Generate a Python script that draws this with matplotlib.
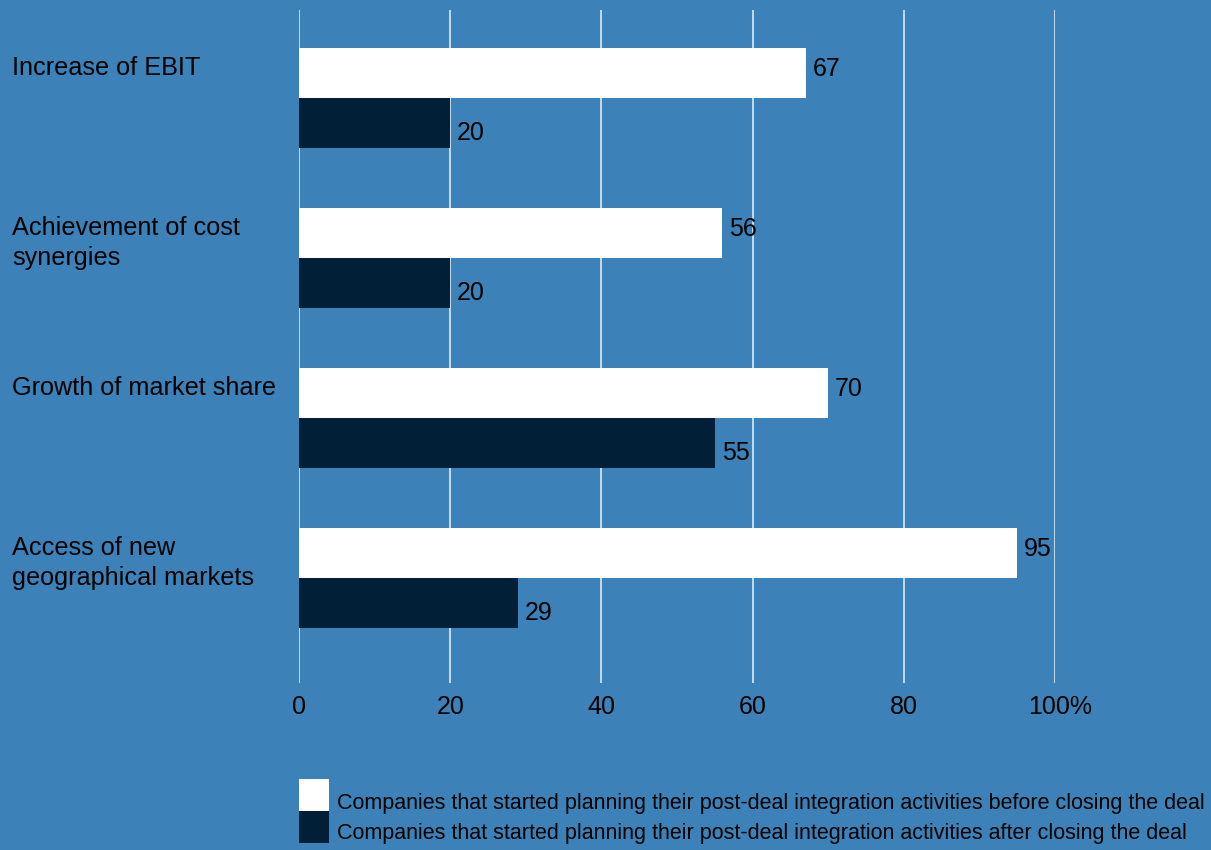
import numpy as np
import matplotlib.pyplot as plt
import matplotlib.transforms as mtransforms
from matplotlib.patches import Rectangle

plt.rcParams['font.family'] = ['Liberation Sans', 'DejaVu Sans']

# data
categories = ["Increase of EBIT", "Achievement of cost\nsynergies",
              "Growth of market share", "Access of new\ngeographical markets"]
before = [67, 56, 70, 95]
after = [20, 20, 55, 29]
series_names = ["Companies that started planning their post-deal integration activities before closing the deal",
                "Companies that started planning their post-deal integration activities after closing the deal"]
xticks = [0, 20, 40, 60, 80, 100]
xticklabels = ["0", "20", "40", "60", "80", "100%"]

bg = "#3c82b8"
dark = "#021f38"
W, H = 1211, 850

fig = plt.figure(figsize=(W / 100, H / 100), dpi=100, facecolor=bg)
ax = fig.add_axes([299 / W, (H - 683) / H, (1055 - 299) / W, (683 - 10) / H])
ax.set_facecolor(bg)

y = np.arange(len(categories))
h = 50 / 160
ax.barh(y - h / 2, before, height=h, color="white", zorder=3)
ax.barh(y + h / 2, after, height=h, color=dark, zorder=3)

for yi, v in zip(y, before):
    ax.annotate(str(v), (v, yi - h / 2), xytext=(7, 4), textcoords="offset pixels",
                va="center", ha="left", fontsize=18, color="black")
for yi, v in zip(y, after):
    ax.annotate(str(v), (v, yi + h / 2), xytext=(7, -10), textcoords="offset pixels",
                va="center", ha="left", fontsize=18, color="black")

ax.set_xlim(0, 100)
ax.set_ylim((683 - 98) / 160, (10 - 98) / 160)
ax.set_xticks(xticks)
ax.set_xticklabels(xticklabels, fontsize=18)
ax.tick_params(axis="x", length=0, pad=9)
# the "%" sits after the number, so the last label is pushed a bit right
last = ax.get_xticklabels()[-1]
last.set_transform(last.get_transform() + mtransforms.ScaledTranslation(5 / 100, 0, fig.dpi_scale_trans))
ax.set_yticks([])
ax.grid(axis="x", color="white", linewidth=1.1, alpha=0.9, zorder=0)
for s in ax.spines.values():
    s.set_visible(False)

# category labels, left aligned at figure edge
for yi, lab in zip(y, categories):
    ax.annotate(lab, (0, yi - h / 2), xycoords=("figure pixels", "data"),
                xytext=(12, 17), textcoords="offset pixels",
                ha="left", va="top", fontsize=18.2, linespacing=1.3)

# legend drawn by hand at the bottom
for i, (name, col) in enumerate(zip(series_names, ["white", dark])):
    top = 779 + 32 * i
    fig.add_artist(Rectangle((299 / W, (H - top - 32) / H), 30 / W, 32 / H,
                             transform=fig.transFigure, facecolor=col, edgecolor="none"))
    fig.text(337 / W, (H - (804 + 29.5 * i)) / H, name, ha="left", va="center", fontsize=15.5)

fig.savefig("out.png", dpi=100, facecolor=bg)
